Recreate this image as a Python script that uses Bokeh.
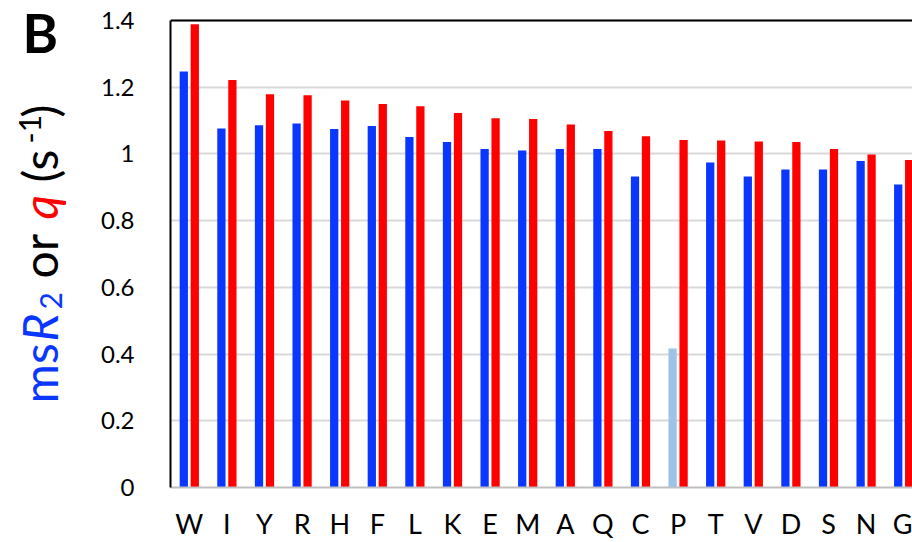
from bokeh.plotting import figure
from bokeh.models import Range1d, FixedTicker, Span
from bokeh.layouts import row
from bokeh.core.properties import value
from bokeh.embed import file_html
from bokeh.resources import INLINE
import math

# ---- data ----
residues = ["W", "I", "Y", "R", "H", "F", "L", "K", "E", "M",
            "A", "Q", "C", "P", "T", "V", "D", "S", "N", "G"]
msR2 = [1.247, 1.076, 1.086, 1.091, 1.075, 1.084, 1.051, 1.036, 1.015, 1.010,
        1.015, 1.015, 0.932, 0.417, 0.974, 0.932, 0.953, 0.953, 0.979, 0.908]
q_vals = [1.389, 1.222, 1.179, 1.176, 1.160, 1.150, 1.143, 1.123, 1.107, 1.105,
          1.088, 1.069, 1.053, 1.042, 1.040, 1.037, 1.036, 1.015, 0.998, 0.982]
highlighted = ["P"]
y_ticks = [0, 0.2, 0.4, 0.6, 0.8, 1.0, 1.2, 1.4]
y_tick_labels = ["0", "0.2", "0.4", "0.6", "0.8", "1", "1.2", "1.4"]

BLUE = "#0a37ff"
LIGHT_BLUE = "#9dc3e6"
RED = "#ff0000"
FONT = "Lato"

# ---- geometry (pixels) ----
W, H = 912, 542
LEFT_W = 95
FL, FT, FB = 170, 20, 487
PX_PER_CAT = 37.6
x0 = -0.5
x1 = x0 + (W - FL) / PX_PER_CAT
ymax = 1.4
px_per_unit = (FB - FT) / ymax
ytop = ymax + FT / px_per_unit          # frame reaches the top of the canvas
BASE_SHIFT = 0.43                        # text anchor -> baseline offset (em)

# ---- left strip: panel letter + multi-coloured y title (pixel coordinates) ----
lf = figure(width=LEFT_W, height=H, output_backend="svg", toolbar_location=None,
            x_range=Range1d(0, LEFT_W), y_range=Range1d(H - FB, H),
            min_border=0, x_axis_type=None, y_axis_type=None)
lf.outline_line_color = None
lf.xgrid.grid_line_color = None
lf.ygrid.grid_line_color = None
lf.background_fill_color = "white"
lf.border_fill_color = "white"

b_size = 54
lf.text(x=[22], y=[H - (55 - BASE_SHIFT * b_size)], text=["B"], text_font=value(FONT),
        text_font_style="bold", text_font_size=value(f"{b_size}px"), text_color="black",
        text_align="left", text_baseline="alphabetic")

parts = [
    ("ms", BLUE, "normal", 48, 60, 403),
    ("R", BLUE, "italic", 48, 60, 341),
    ("2", BLUE, "normal", 30, 63, 309),
    ("or", "black", "normal", 48, 60, 278),
    ("q", RED, "italic", 48, 60, 219),
    ("(s", "black", "normal", 48, 60, 182),
    ("-1", "black", "normal", 30, 42, 143),
    (")", "black", "normal", 48, 60, 117),
]
for txt, col, style, size, bx, by in parts:
    lf.text(x=[bx - BASE_SHIFT * size], y=[H - by], text=[txt], text_font=value(FONT),
            text_font_style=style, text_font_size=value(f"{size}px"), text_color=col,
            angle=math.pi / 2, text_align="left", text_baseline="alphabetic")

# ---- main chart ----
p = figure(width=W - LEFT_W, height=H, output_backend="svg", toolbar_location=None,
           x_range=Range1d(x0, x1), y_range=Range1d(0, ytop),
           min_border_left=FL - LEFT_W, min_border_right=0, min_border_top=0,
           min_border_bottom=H - FB)
p.outline_line_color = None
p.background_fill_color = "white"
p.border_fill_color = "white"

xs = list(range(len(residues)))
off = 0.146
bw = 0.22
blue_fill = [LIGHT_BLUE if r in highlighted else BLUE for r in residues]
p.vbar(x=[x - off for x in xs], top=msR2, width=bw, fill_color=blue_fill, line_color=None)
p.vbar(x=[x + off for x in xs], top=q_vals, width=bw, fill_color=RED, line_color=None)

p.yaxis.ticker = FixedTicker(ticks=y_ticks)
p.yaxis.bounds = (0, ymax)
p.yaxis.major_label_overrides = {t: l for t, l in zip(y_ticks, y_tick_labels)}
p.yaxis.major_label_text_font = FONT
p.yaxis.major_label_text_font_size = "24px"
p.yaxis.major_label_text_color = "#000000"
p.yaxis.major_tick_line_color = None
p.yaxis.minor_tick_line_color = None
p.yaxis.major_label_standoff = 30
p.yaxis.axis_line_color = "black"
p.yaxis.axis_line_width = 2

p.xaxis.ticker = FixedTicker(ticks=xs)
p.xaxis.major_label_overrides = {i: r for i, r in zip(xs, residues)}
p.xaxis.major_label_text_font = FONT
p.xaxis.major_label_text_font_size = "27px"
p.xaxis.major_label_text_color = "#000000"
p.xaxis.major_tick_line_color = None
p.xaxis.minor_tick_line_color = None
p.xaxis.major_label_standoff = 13
p.xaxis.axis_line_color = "#bfbfbf"
p.xaxis.axis_line_width = 2

p.xgrid.grid_line_color = None
p.ygrid.grid_line_color = "#d9d9d9"
p.ygrid.grid_line_width = 2

p.add_layout(Span(location=ymax, dimension="width", line_color="black", line_width=2))

layout = row(lf, p, spacing=0)
open("out.html", "w").write(file_html(layout, INLINE))
